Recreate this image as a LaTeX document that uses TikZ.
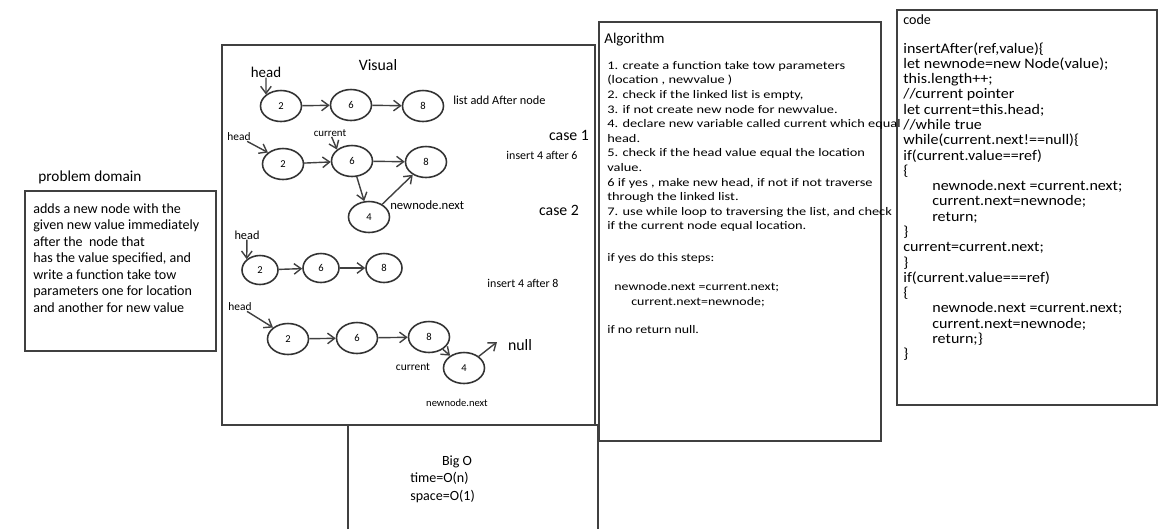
\documentclass[tikz,border=0pt]{standalone}
\usepackage{fontspec}
\setmainfont{Carlito}
\newfontfamily\algfont{Carlito}[FakeStretch=1.24]
\newfontfamily\stepfont{Carlito}[FakeStretch=1.2]
\newfontfamily\codefont{Carlito}[FakeStretch=1.1]
\usetikzlibrary{shapes.geometric, arrows.meta}

\begin{document}
\begin{tikzpicture}[x=0.02cm, y=-0.02cm,
    box/.style={draw=black!75, line width=0.9pt},
    lnode/.style={ellipse, draw=black!80, line width=0.9pt, minimum width=0.82cm, minimum height=0.62cm, inner sep=0pt, font=\fontsize{6}{7}\selectfont},
    snode/.style={lnode, minimum width=0.72cm, minimum height=0.58cm},
    lbl/.style={inner sep=0pt, font=\fontsize{#1}{#1}\selectfont},
    stp/.style={inner sep=0pt, anchor=west, font=\stepfont\fontsize{6.6}{6.6}\selectfont},
    ptr/.style={-{Straight Barb[length=4pt, width=6pt]}, line width=0.8pt, black!75}]
    \useasboundingbox (0,0) rectangle (1171,529);

    % frames
    \draw[box] (25,191) rectangle (216,351);
    \draw[box] (222,45) rectangle (595,425);
    \draw[box] (348,529) -- (348,425) -- (598,425) -- (598,529);
    \draw[box] (599,22) rectangle (881,441);
    \draw[box] (897,10) rectangle (1157,405);

    % problem domain
    \node[lbl=8.7, anchor=west] (pdTitle) at (38,177) {problem domain};
    \node[inner sep=0pt, anchor=north west, align=left, font=\fontsize{8}{9.4}\selectfont] (pdText) at (33,203)
        {adds a new node with the\\given new value immediately\\after the \ node that\\has the value specified, and\\write a function take tow\\parameters one for location\\and another for new value};

    % visual
    \node[lbl=9] (visTitle) at (378,65) {Visual};
    \node[lbl=8.5] (hd1) at (266,72) {head};
    \node[lnode] (n12) at (281,106) {2};
    \node[lnode] (n16) at (351,105) {6};
    \node[lnode] (n18) at (423,106) {8};
    \node[lbl=7, anchor=west] (lstAdd) at (453,100) {list add After node};
    \draw[ptr] (hd1) -- (n12.north west);
    \draw[ptr] (n12) -- (n16);
    \draw[ptr] (n16) -- (n18);

    % case 1
    \node[lbl=6.5] (hd2) at (239,137) {head};
    \node[lbl=6.2] (cur2) at (330,133) {current};
    \node[lnode] (n22) at (283,164) {2};
    \node[lnode] (n26) at (352,161) {6};
    \node[lnode] (n28) at (426,162) {8};
    \node[lnode] (n24) at (369,217) {4};
    \node[lbl=7.2, anchor=west] (nn2) at (390,205) {newnode.next};
    \node[lbl=9] (caseOne) at (569,135) {case 1};
    \node[lbl=6.8] (ins6) at (542,155) {insert 4 after 6};
    \node[lbl=9] (caseTwo) at (559,210) {case 2};
    \draw[ptr] (hd2) -- (n22.north west);
    \draw[ptr] (cur2) -- (n26.north west);
    \draw[ptr] (n22) -- (n26);
    \draw[ptr] (n26) -- (n28);
    \draw[ptr] (n26) -- (n24);
    \draw[ptr] (n24) -- (n28);

    % case 2
    \node[lbl=7] (hd3) at (247,235) {head};
    \node[snode] (n32) at (260,270) {2};
    \node[snode] (n36) at (321,268) {6};
    \node[snode] (n38) at (384,268) {8};
    \node[lbl=6.8] (ins8) at (523,283) {insert 4 after 8};
    \draw[ptr] (hd3) -- (n32.north west);
    \draw[ptr] (n32) -- (n36);
    \draw[ptr] (n36) -- (n38);

    \node[lbl=6.5] (hd4) at (240,307) {head};
    \node[lnode] (n42) at (288,339) {2};
    \node[lnode] (n46) at (357,338) {6};
    \node[lnode] (n48) at (429,337) {8};
    \node[lnode] (n44) at (464,368) {4};
    \node[lbl=9] (nul) at (520,345) {null};
    \coordinate (nulPtr) at (497,342);
    \node[lbl=6.5] (cur4) at (413,367) {current};
    \node[lbl=6] (nn4) at (457,403) {newnode.next};
    \draw[ptr] (hd4) -- (n42.north west);
    \draw[ptr] (n42) -- (n46);
    \draw[ptr] (n46) -- (n48);
    \draw[ptr] (n48) -- (n44);
    \draw[ptr] (n44) -- (nulPtr);

    % big o
    \node[lbl=8] (bigO) at (457,462) {Big O};
    \node[lbl=8, anchor=west] (timeO) at (410,478) {time=O(n)};
    \node[lbl=8, anchor=west] (spaceO) at (410,496) {space=O(1)};

    % algorithm
    \node[lbl=8.5, anchor=west] (algTitle) at (604,40) {Algorithm};
    \node[inner sep=0pt, anchor=north west, align=left, font=\algfont\fontsize{6.6}{8.3}\selectfont] (algText) at (607,61)
        {1. create a function take tow parameters\\(location , newvalue )\\2. check if the linked list is empty,\\3. if not create new node for newvalue.\\4. declare new variable called current which equal\\head.\\5. check if the head value equal the location\\value.\\6 if yes , make new head, if not if not traverse\\through the linked list.\\7. use while loop to traversing the list, and check\\if the current node equal location.};
    \node[stp] (algYes) at (607,258) {if yes do this steps:};
    \node[stp] (algStepA) at (614,287) {newnode.next =current.next;};
    \node[stp] (algStepB) at (631,302) {current.next=newnode;};
    \node[stp] (algNo) at (607,330) {if no return null.};

    % code
    \node[lbl=8, anchor=west] (codeTitle) at (903,20) {code};
    \node[inner sep=0pt, anchor=north west, align=left, font=\codefont\fontsize{8.3}{8.7}\selectfont] (codeText) at (903,42)
        {insertAfter(ref,value)\{\\let newnode=new Node(value);\\this.length++;\\//current pointer\\let current=this.head;\\//while true\\while(current.next!==null)\{\\if(current.value==ref)\\\{\\\hspace*{0.58cm}newnode.next =current.next;\\\hspace*{0.58cm}current.next=newnode;\\\hspace*{0.58cm}return;\\\}\\current=current.next;\\\}\\if(current.value===ref)\\\{\\\hspace*{0.58cm}newnode.next =current.next;\\\hspace*{0.58cm}current.next=newnode;\\\hspace*{0.58cm}return;\}\\\}};
\end{tikzpicture}
\end{document}
